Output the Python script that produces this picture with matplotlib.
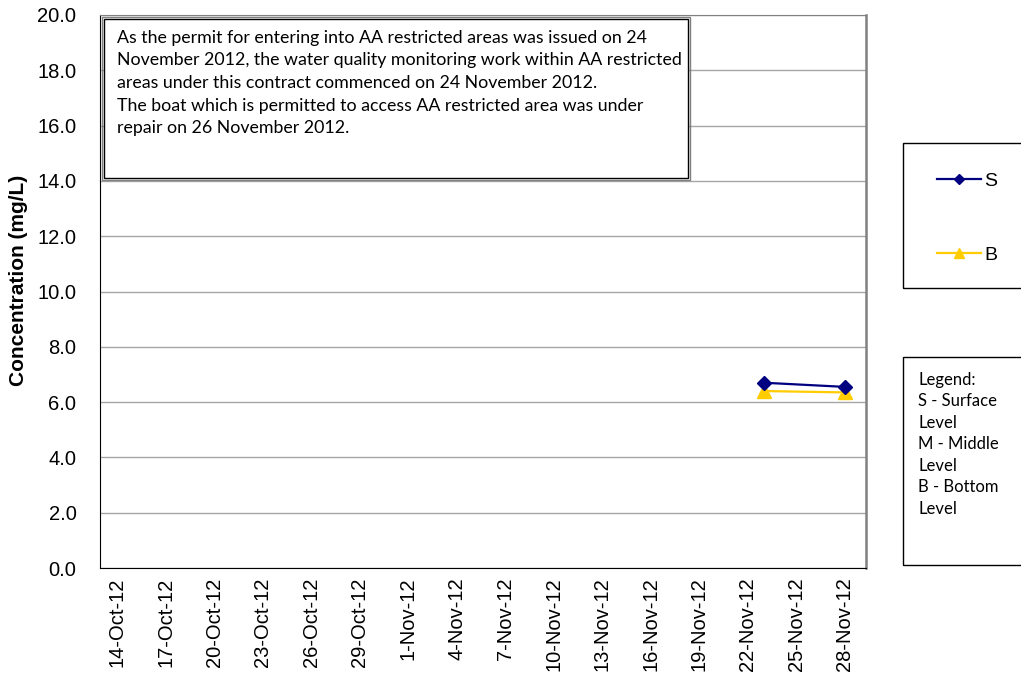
import matplotlib
matplotlib.use('Agg')
import matplotlib.pyplot as plt
import matplotlib.dates as mdates
from matplotlib.patches import Rectangle
from matplotlib.lines import Line2D
import datetime as dt

# data
dates = [dt.date(2012, 11, 23), dt.date(2012, 11, 28)]
surface = [6.7, 6.55]
bottom = [6.4, 6.35]
tick_dates = [dt.date(2012, 10, 14) + dt.timedelta(days=3 * i) for i in range(16)]
tick_labels = [d.strftime('%-d-%b-%y') for d in tick_dates]
y_ticks = [0, 2, 4, 6, 8, 10, 12, 14, 16, 18, 20]

note = ("As the permit for entering into AA restricted areas was issued on 24\n"
        "November 2012, the water quality monitoring work within AA restricted\n"
        "areas under this contract commenced on 24 November 2012.\n"
        "The boat which is permitted to access AA restricted area was under\n"
        "repair on 26 November 2012.")
key_text = "Legend:\nS - Surface\nLevel\nM - Middle\nLevel\nB - Bottom\nLevel"

W, H = 1021, 679
fig = plt.figure(figsize=(W / 100, H / 100), dpi=100)
ax = fig.add_axes([100 / W, 1 - 568 / H, 766 / W, 553 / H])

ax.plot(dates, surface, color='#000080', marker='D', markersize=7, lw=1.6, zorder=4)
ax.plot(dates, bottom, color='#FFCC00', marker='^', markersize=9.5, lw=1.6, zorder=3)

ax.set_ylim(0, 20)
ax.set_yticks(y_ticks)
ax.set_yticklabels([f'{v:.1f}' for v in y_ticks], fontsize=14.5, family='Liberation Sans')
ax.yaxis.grid(True, color='#A6A6A6', lw=1)
ax.set_axisbelow(True)

ax.set_xlim(mdates.date2num(dt.date(2012, 10, 13)) - 0.05,
            mdates.date2num(dt.date(2012, 11, 29)) + 0.3)
ax.set_xticks(mdates.date2num(tick_dates))
ax.set_xticklabels(tick_labels, rotation=90, fontsize=14.5, family='Liberation Sans')
ax.tick_params(length=0)
ax.tick_params(axis='x', pad=7)
ax.tick_params(axis='y', pad=17)

for s in ['top', 'right']:
    ax.spines[s].set_color('#808080')
ax.spines['left'].set_color('black')
ax.spines['bottom'].set_color('black')
ax.spines['right'].set_linewidth(1.8)

ax.set_ylabel('Concentration (mg/L)', fontsize=15, fontweight='bold',
              family='Liberation Sans')
ax.yaxis.set_label_coords(-72 / 766, 0.52)

# note box inside plot area (double border)
fig.patches.append(Rectangle((102 / W, 1 - 180 / H), 588 / W, 163 / H,
                             transform=fig.transFigure, fill=False,
                             edgecolor='#808080', lw=1, zorder=5))
fig.patches.append(Rectangle((104 / W, 1 - 178 / H), 584 / W, 159 / H,
                             transform=fig.transFigure, facecolor='white',
                             edgecolor='black', lw=1, zorder=5))
fig.text(117 / W, 1 - 30 / H, note, fontsize=12.8, family='Lato', va='top',
         linespacing=1.5, zorder=6)

# series legend box
fig.patches.append(Rectangle((903 / W, 1 - 288 / H), 125 / W, 145 / H,
                             transform=fig.transFigure, fill=False,
                             edgecolor='black', lw=1))
handles = [Line2D([], [], color='#000080', marker='D', markersize=5, lw=1.6),
           Line2D([], [], color='#FFCC00', marker='^', markersize=7, lw=1.6)]
fig.legend(handles, ['S', 'B'], loc='center left',
           bbox_to_anchor=(919 / W, 1 - 218 / H), frameon=False,
           handlelength=2.3, handletextpad=0.15, labelspacing=2.9,
           prop={'family': 'Liberation Sans', 'size': 14})

# level key box
fig.patches.append(Rectangle((903 / W, 1 - 565 / H), 125 / W, 208 / H,
                             transform=fig.transFigure, fill=False,
                             edgecolor='black', lw=1))
fig.text(918 / W, 1 - 372 / H, key_text, fontsize=12, family='Lato',
         va='top', linespacing=1.42)

fig.savefig('out.png', dpi=100)
